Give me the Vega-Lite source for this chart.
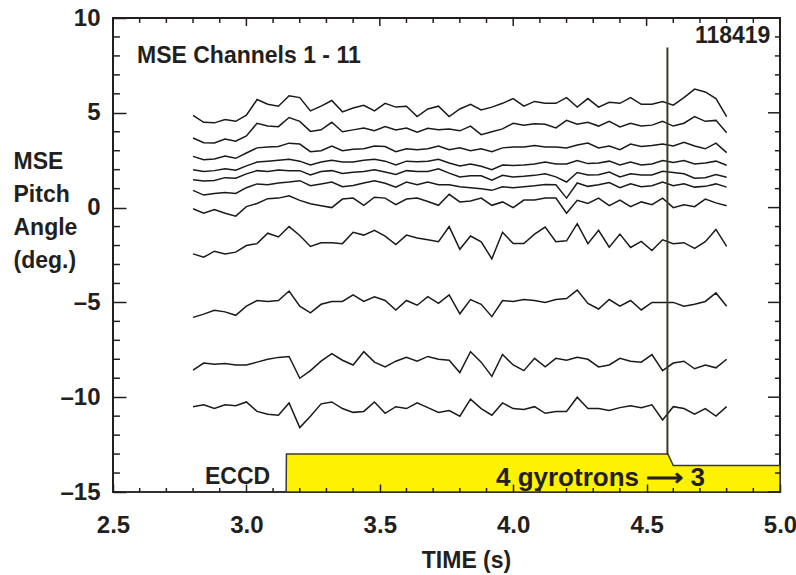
{
 "$schema": "https://vega.github.io/schema/vega-lite/v6.json",
 "width": 667, "height": 474,
 "autosize": {"type": "none"},
 "padding": {"left": 113, "top": 18, "right": 16, "bottom": 83},
 "background": "white",
 "config": {
  "view": {"stroke": "#231f20", "strokeWidth": 2},
  "font": "Liberation Sans",
  "axis": {"labelFont": "Liberation Sans", "labelFontWeight": "bold", "labelColor": "#231f20", "titleFont": "Liberation Sans", "titleFontWeight": "bold", "titleColor": "#231f20", "domainColor": "#231f20", "tickColor": "#231f20", "grid": false, "labelFlush": false, "labelOverlap": false, "labelBound": false}
 },
 "datasets": {
  "mse": [
   {"t":2.80,"c1":4.87,"c2":3.67,"c3":2.7,"c4":2.0,"c5":1.47,"c6":0.91,"c7":-0.06,"c8":-2.44,"c9":-5.79,"c10":-8.57,"c11":-10.5},
   {"t":2.84,"c1":4.5,"c2":3.42,"c3":2.52,"c4":1.9,"c5":1.4,"c6":0.66,"c7":-0.3,"c8":-2.62,"c9":-5.62,"c10":-8.2,"c11":-10.4},
   {"t":2.88,"c1":4.47,"c2":3.41,"c3":2.56,"c4":1.95,"c5":1.43,"c6":0.74,"c7":-0.1,"c8":-2.3,"c9":-5.42,"c10":-8.26,"c11":-10.6},
   {"t":2.92,"c1":4.65,"c2":3.62,"c3":2.72,"c4":2.05,"c5":1.58,"c6":0.8,"c7":-0.3,"c8":-2.45,"c9":-5.5,"c10":-8.22,"c11":-10.4},
   {"t":2.96,"c1":4.55,"c2":3.5,"c3":2.6,"c4":1.97,"c5":1.55,"c6":0.75,"c7":-0.45,"c8":-2.35,"c9":-5.68,"c10":-8.3,"c11":-10.45},
   {"t":3.00,"c1":4.87,"c2":3.78,"c3":2.88,"c4":2.2,"c5":1.78,"c6":1.05,"c7":0.05,"c8":-2.0,"c9":-5.2,"c10":-8.3,"c11":-10.25},
   {"t":3.04,"c1":5.7,"c2":4.45,"c3":3.15,"c4":2.4,"c5":1.95,"c6":1.25,"c7":0.22,"c8":-1.9,"c9":-4.9,"c10":-8.15,"c11":-10.75},
   {"t":3.08,"c1":5.45,"c2":4.3,"c3":3.2,"c4":2.45,"c5":1.9,"c6":1.2,"c7":0.47,"c8":-1.35,"c9":-4.95,"c10":-8.0,"c11":-10.9},
   {"t":3.12,"c1":5.35,"c2":4.27,"c3":3.22,"c4":2.5,"c5":1.98,"c6":1.3,"c7":0.5,"c8":-1.55,"c9":-4.9,"c10":-7.9,"c11":-10.95},
   {"t":3.16,"c1":5.9,"c2":4.75,"c3":3.4,"c4":2.55,"c5":1.95,"c6":1.35,"c7":0.62,"c8":-1.0,"c9":-4.4,"c10":-7.85,"c11":-10.3},
   {"t":3.20,"c1":5.8,"c2":4.55,"c3":3.35,"c4":2.45,"c5":1.95,"c6":1.42,"c7":0.38,"c8":-1.47,"c9":-5.2,"c10":-9.0,"c11":-11.6},
   {"t":3.24,"c1":5.1,"c2":4.02,"c3":2.95,"c4":2.25,"c5":1.72,"c6":1.15,"c7":0.2,"c8":-2.05,"c9":-5.55,"c10":-8.6,"c11":-11.0},
   {"t":3.28,"c1":5.35,"c2":4.1,"c3":3.0,"c4":2.4,"c5":1.9,"c6":1.25,"c7":0.1,"c8":-1.85,"c9":-5.1,"c10":-8.1,"c11":-10.35},
   {"t":3.32,"c1":5.65,"c2":4.5,"c3":3.25,"c4":2.5,"c5":1.95,"c6":1.35,"c7":0.0,"c8":-1.85,"c9":-4.95,"c10":-7.7,"c11":-10.25},
   {"t":3.36,"c1":5.05,"c2":4.0,"c3":3.0,"c4":2.4,"c5":1.8,"c6":1.1,"c7":0.45,"c8":-1.9,"c9":-4.95,"c10":-8.05,"c11":-10.6},
   {"t":3.40,"c1":5.25,"c2":4.1,"c3":3.08,"c4":2.4,"c5":1.87,"c6":1.17,"c7":0.5,"c8":-1.3,"c9":-4.6,"c10":-8.3,"c11":-10.8},
   {"t":3.44,"c1":5.4,"c2":4.2,"c3":3.1,"c4":2.5,"c5":1.9,"c6":1.3,"c7":0.12,"c8":-1.45,"c9":-4.95,"c10":-7.6,"c11":-10.75},
   {"t":3.48,"c1":5.1,"c2":4.05,"c3":3.25,"c4":2.55,"c5":2.0,"c6":1.42,"c7":0.55,"c8":-1.2,"c9":-4.7,"c10":-8.15,"c11":-10.25},
   {"t":3.52,"c1":5.5,"c2":4.28,"c3":3.22,"c4":2.45,"c5":1.88,"c6":1.28,"c7":0.5,"c8":-1.5,"c9":-4.9,"c10":-8.4,"c11":-10.85},
   {"t":3.56,"c1":5.3,"c2":4.1,"c3":2.95,"c4":2.25,"c5":1.75,"c6":1.08,"c7":0.15,"c8":-1.95,"c9":-5.4,"c10":-8.1,"c11":-10.5},
   {"t":3.60,"c1":5.35,"c2":4.2,"c3":3.1,"c4":2.45,"c5":1.95,"c6":1.35,"c7":0.45,"c8":-1.45,"c9":-4.9,"c10":-7.9,"c11":-10.6},
   {"t":3.64,"c1":4.8,"c2":3.98,"c3":3.05,"c4":2.42,"c5":1.9,"c6":1.2,"c7":0.5,"c8":-1.6,"c9":-5.15,"c10":-8.1,"c11":-10.3},
   {"t":3.68,"c1":5.2,"c2":4.18,"c3":3.1,"c4":2.45,"c5":1.9,"c6":1.35,"c7":0.32,"c8":-1.7,"c9":-4.7,"c10":-7.85,"c11":-10.55},
   {"t":3.72,"c1":5.35,"c2":4.1,"c3":3.25,"c4":2.55,"c5":2.05,"c6":1.2,"c7":0.12,"c8":-1.8,"c9":-5.05,"c10":-8.0,"c11":-10.8},
   {"t":3.76,"c1":4.8,"c2":4.15,"c3":3.05,"c4":2.35,"c5":1.82,"c6":1.2,"c7":0.7,"c8":-1.0,"c9":-4.6,"c10":-8.05,"c11":-10.7},
   {"t":3.80,"c1":5.2,"c2":4.05,"c3":3.15,"c4":2.2,"c5":1.62,"c6":1.1,"c7":0.3,"c8":-2.2,"c9":-5.6,"c10":-8.7,"c11":-11.0},
   {"t":3.84,"c1":5.45,"c2":4.3,"c3":3.0,"c4":2.3,"c5":1.68,"c6":1.05,"c7":0.35,"c8":-1.5,"c9":-4.85,"c10":-7.6,"c11":-10.1},
   {"t":3.88,"c1":5.15,"c2":3.85,"c3":3.1,"c4":2.18,"c5":1.68,"c6":1.0,"c7":0.5,"c8":-1.8,"c9":-5.1,"c10":-8.15,"c11":-10.6},
   {"t":3.92,"c1":5.3,"c2":4.0,"c3":2.95,"c4":2.0,"c5":1.44,"c6":0.91,"c7":0.12,"c8":-2.7,"c9":-5.75,"c10":-8.9,"c11":-10.95},
   {"t":3.96,"c1":5.5,"c2":4.15,"c3":3.15,"c4":2.25,"c5":1.7,"c6":1.1,"c7":0.3,"c8":-1.3,"c9":-4.9,"c10":-7.75,"c11":-10.3},
   {"t":4.00,"c1":5.75,"c2":4.45,"c3":3.2,"c4":2.22,"c5":1.62,"c6":1.05,"c7":0.0,"c8":-1.9,"c9":-4.95,"c10":-8.3,"c11":-10.6},
   {"t":4.04,"c1":5.35,"c2":4.35,"c3":3.2,"c4":2.25,"c5":1.65,"c6":1.1,"c7":0.4,"c8":-1.9,"c9":-4.85,"c10":-8.6,"c11":-10.65},
   {"t":4.08,"c1":5.6,"c2":4.42,"c3":3.28,"c4":2.3,"c5":1.7,"c6":1.15,"c7":0.4,"c8":-1.4,"c9":-4.9,"c10":-7.95,"c11":-10.5},
   {"t":4.12,"c1":5.5,"c2":4.4,"c3":3.2,"c4":2.4,"c5":1.78,"c6":1.22,"c7":0.5,"c8":-1.03,"c9":-5.0,"c10":-8.4,"c11":-10.85},
   {"t":4.16,"c1":5.5,"c2":4.2,"c3":3.2,"c4":2.3,"c5":1.62,"c6":1.2,"c7":0.5,"c8":-1.8,"c9":-4.85,"c10":-7.95,"c11":-10.75},
   {"t":4.20,"c1":5.8,"c2":4.6,"c3":3.15,"c4":2.3,"c5":1.35,"c6":0.5,"c7":-0.3,"c8":-1.75,"c9":-4.8,"c10":-8.05,"c11":-10.75},
   {"t":4.24,"c1":5.3,"c2":4.4,"c3":3.3,"c4":2.48,"c5":1.85,"c6":1.3,"c7":0.38,"c8":-0.85,"c9":-4.35,"c10":-7.9,"c11":-10.0},
   {"t":4.28,"c1":5.75,"c2":4.5,"c3":3.4,"c4":2.32,"c5":1.72,"c6":1.12,"c7":0.22,"c8":-1.9,"c9":-5.05,"c10":-8.0,"c11":-10.6},
   {"t":4.32,"c1":5.3,"c2":4.3,"c3":3.15,"c4":2.35,"c5":1.73,"c6":1.2,"c7":0.5,"c8":-1.2,"c9":-5.35,"c10":-8.4,"c11":-10.6},
   {"t":4.36,"c1":5.55,"c2":4.55,"c3":3.25,"c4":2.45,"c5":1.88,"c6":1.32,"c7":0.1,"c8":-2.09,"c9":-4.85,"c10":-8.3,"c11":-10.7},
   {"t":4.40,"c1":5.5,"c2":4.25,"c3":3.05,"c4":2.25,"c5":1.62,"c6":1.05,"c7":0.4,"c8":-1.4,"c9":-5.2,"c10":-7.95,"c11":-10.55},
   {"t":4.44,"c1":5.8,"c2":4.45,"c3":3.35,"c4":2.4,"c5":1.78,"c6":1.25,"c7":0.05,"c8":-2.1,"c9":-4.9,"c10":-8.1,"c11":-10.45},
   {"t":4.48,"c1":5.45,"c2":4.3,"c3":3.22,"c4":2.25,"c5":1.72,"c6":1.1,"c7":0.3,"c8":-1.78,"c9":-5.4,"c10":-8.15,"c11":-10.55},
   {"t":4.52,"c1":5.45,"c2":4.35,"c3":3.27,"c4":2.3,"c5":1.72,"c6":1.15,"c7":0.15,"c8":-2.26,"c9":-5.0,"c10":-7.75,"c11":-10.4},
   {"t":4.56,"c1":5.6,"c2":4.55,"c3":3.35,"c4":2.48,"c5":1.92,"c6":1.35,"c7":0.5,"c8":-1.7,"c9":-5.0,"c10":-8.6,"c11":-11.2},
   {"t":4.60,"c1":5.4,"c2":4.3,"c3":3.25,"c4":2.38,"c5":1.85,"c6":1.15,"c7":0.0,"c8":-1.9,"c9":-5.0,"c10":-8.2,"c11":-10.5},
   {"t":4.64,"c1":5.8,"c2":4.45,"c3":3.45,"c4":2.48,"c5":1.78,"c6":1.26,"c7":0.15,"c8":-1.85,"c9":-5.2,"c10":-8.1,"c11":-10.6},
   {"t":4.68,"c1":6.25,"c2":4.8,"c3":3.25,"c4":2.3,"c5":1.55,"c6":1.08,"c7":0.05,"c8":-2.15,"c9":-5.1,"c10":-8.5,"c11":-10.9},
   {"t":4.72,"c1":6.1,"c2":4.55,"c3":3.1,"c4":2.35,"c5":1.58,"c6":1.12,"c7":0.45,"c8":-1.8,"c9":-4.95,"c10":-8.3,"c11":-10.6},
   {"t":4.76,"c1":5.75,"c2":4.6,"c3":3.4,"c4":2.45,"c5":1.75,"c6":1.25,"c7":0.25,"c8":-1.15,"c9":-4.5,"c10":-8.45,"c11":-11.0},
   {"t":4.80,"c1":4.8,"c2":3.95,"c3":2.9,"c4":2.23,"c5":1.6,"c6":1.08,"c7":0.1,"c8":-2.05,"c9":-5.2,"c10":-8.0,"c11":-10.5}
  ],
  "eccd": [
   {"t":2.53,"p":-15},
   {"t":3.149,"p":-15},
   {"t":3.15,"p":-13},
   {"t":4.58,"p":-13},
   {"t":4.60,"p":-13.6},
   {"t":5.0,"p":-13.6}
  ],
  "xmaj": [{"t":2.5},{"t":3.0},{"t":3.5},{"t":4.0},{"t":4.5},{"t":5.0}],
  "xmin": [{"t":2.6},{"t":2.7},{"t":2.8},{"t":2.9},{"t":3.1},{"t":3.2},{"t":3.3},{"t":3.4},{"t":3.6},{"t":3.7},{"t":3.8},{"t":3.9},{"t":4.1},{"t":4.2},{"t":4.3},{"t":4.4},{"t":4.6},{"t":4.7},{"t":4.8},{"t":4.9}],
  "ymaj": [{"v":-15},{"v":-10},{"v":-5},{"v":0},{"v":5},{"v":10}],
  "ymin": [{"v":-14},{"v":-13},{"v":-12},{"v":-11},{"v":-9},{"v":-8},{"v":-7},{"v":-6},{"v":-4},{"v":-3},{"v":-2},{"v":-1},{"v":1},{"v":2},{"v":3},{"v":4},{"v":6},{"v":7},{"v":8},{"v":9}],
  "one": [{}]
 },
 "layer": [
  {
   "data": {"name": "mse"},
   "transform": [{"fold": ["c1","c2","c3","c4","c5","c6","c7","c8","c9","c10","c11"], "as": ["ch","v"]}],
   "mark": {"type": "line", "color": "#1a1a1a", "strokeWidth": 1.5},
   "encoding": {
    "x": {"field": "t", "type": "quantitative", "scale": {"domain": [2.5, 5], "nice": false, "zero": false},
     "axis": {"orient": "bottom", "offset": -8, "values": [2.5,3,3.5,4,4.5,5], "format": ".1f", "ticks": true, "tickSize": 8, "tickWidth": 1.5, "domain": false, "labelFontSize": 24, "labelPadding": 40, "labelBaseline": "alphabetic", "title": "TIME (s)", "titleFontSize": 23, "titleX": 353, "titleY": 83, "titleBaseline": "alphabetic", "titleAlign": "center", "zindex": 1}},
    "y": {"field": "v", "type": "quantitative", "scale": {"domain": [-15, 10], "nice": false, "zero": false},
     "axis": {"orient": "left", "offset": -13, "values": [-15,-10,-5,0,5,10], "ticks": true, "tickSize": 13, "tickWidth": 1.5, "domain": false, "labelFontSize": 24, "labelPadding": 13, "labelExpr": "datum.value < 0 ? '–' + abs(datum.value) : datum.label", "title": ["MSE","Pitch","Angle","(deg.)"], "titleAngle": 0, "titleAlign": "left", "titleBaseline": "alphabetic", "titleX": -113, "titleY": 150, "titleLineHeight": 33, "titleFontSize": 23, "zindex": 1}},
    "detail": {"field": "ch"}
   }
  },
  {
   "data": {"name": "eccd"},
   "mark": {"type": "area", "color": "#fff200", "fillOpacity": 1, "stroke": "#3a3a3a", "strokeWidth": 1.5},
   "encoding": {
    "x": {"field": "t", "type": "quantitative"},
    "y": {"field": "p", "type": "quantitative"},
    "y2": {"datum": -15}
   }
  },
  {
   "data": {"name": "one"},
   "mark": {"type": "rule", "color": "#3d3b1f", "strokeWidth": 2},
   "encoding": {
    "x": {"datum": 4.578, "type": "quantitative"},
    "y": {"datum": 8.45, "type": "quantitative"},
    "y2": {"datum": -13.05}
   }
  },
  {
   "data": {"name": "xmin"},
   "mark": {"type": "rule", "color": "#231f20", "strokeWidth": 1.5},
   "encoding": {"x": {"field": "t", "type": "quantitative"}, "y": {"datum": -15, "type": "quantitative"}, "y2": {"datum": -14.79}}
  },
  {
   "data": {"name": "xmaj"},
   "mark": {"type": "rule", "color": "#231f20", "strokeWidth": 1.5},
   "encoding": {"x": {"field": "t", "type": "quantitative"}, "y": {"datum": 10, "type": "quantitative"}, "y2": {"datum": 9.58}}
  },
  {
   "data": {"name": "xmin"},
   "mark": {"type": "rule", "color": "#231f20", "strokeWidth": 1.5},
   "encoding": {"x": {"field": "t", "type": "quantitative"}, "y": {"datum": 10, "type": "quantitative"}, "y2": {"datum": 9.74}}
  },
  {
   "data": {"name": "ymin"},
   "mark": {"type": "rule", "color": "#231f20", "strokeWidth": 1.5},
   "encoding": {"y": {"field": "v", "type": "quantitative"}, "x": {"datum": 2.5, "type": "quantitative"}, "x2": {"datum": 2.526}}
  },
  {
   "data": {"name": "ymaj"},
   "mark": {"type": "rule", "color": "#231f20", "strokeWidth": 1.5},
   "encoding": {"y": {"field": "v", "type": "quantitative"}, "x": {"datum": 5.0, "type": "quantitative"}, "x2": {"datum": 4.955}}
  },
  {
   "data": {"name": "ymin"},
   "mark": {"type": "rule", "color": "#231f20", "strokeWidth": 1.5},
   "encoding": {"y": {"field": "v", "type": "quantitative"}, "x": {"datum": 5.0, "type": "quantitative"}, "x2": {"datum": 4.981}}
  },
  {
   "data": {"name": "one"},
   "mark": {"type": "text", "text": "ECCD", "font": "Liberation Sans", "fontWeight": "bold", "fontSize": 23, "align": "center", "baseline": "alphabetic", "color": "#231f20"},
   "encoding": {
    "x": {"datum": 2.967, "type": "quantitative"},
    "y": {"datum": -14.59, "type": "quantitative"}
   }
  },
  {
   "data": {"name": "one"},
   "mark": {"type": "text", "text": "4 gyrotrons ⟶ 3", "font": "Liberation Sans", "fontWeight": "bold", "fontSize": 26, "align": "center", "baseline": "alphabetic", "color": "#231f20"},
   "encoding": {
    "x": {"datum": 4.327, "type": "quantitative"},
    "y": {"datum": -14.68, "type": "quantitative"}
   }
  },
  {
   "data": {"name": "one"},
   "mark": {"type": "text", "text": "MSE Channels 1 - 11", "font": "Liberation Sans", "fontWeight": "bold", "fontSize": 23, "align": "left", "baseline": "alphabetic", "color": "#231f20"},
   "encoding": {
    "x": {"datum": 2.59, "type": "quantitative"},
    "y": {"datum": 7.64, "type": "quantitative"}
   }
  },
  {
   "data": {"name": "one"},
   "mark": {"type": "text", "text": "118419", "font": "Liberation Sans", "fontWeight": "bold", "fontSize": 23, "align": "right", "baseline": "alphabetic", "color": "#231f20"},
   "encoding": {
    "x": {"datum": 4.964, "type": "quantitative"},
    "y": {"datum": 8.66, "type": "quantitative"}
   }
  }
 ]
}
